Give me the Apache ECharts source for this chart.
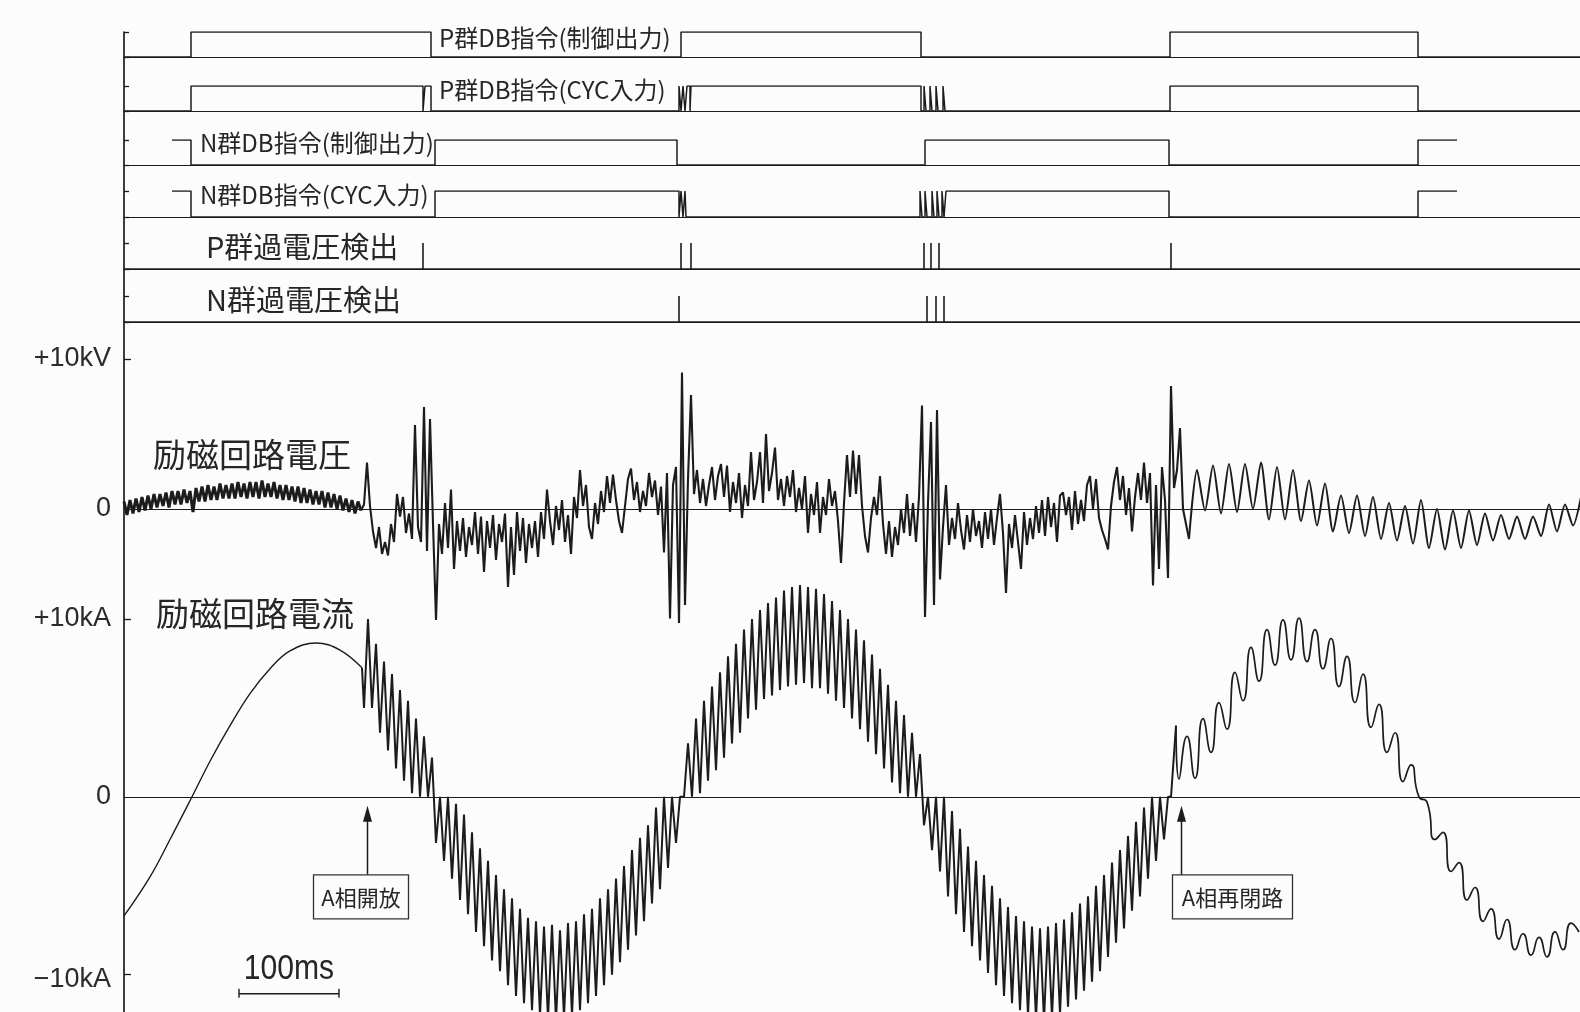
<!DOCTYPE html>
<html>
<head>
<meta charset="utf-8">
<script src="https://cdn.jsdelivr.net/npm/echarts@6/dist/echarts.min.js"></script>
<style>
  html, body { margin: 0; padding: 0; background: #fcfcfc; }
  #chart { width: 1580px; height: 1012px; }
</style>
</head>
<body>
<div id="chart"></div>
<script>
// Oscillogram of an A-phase open / reclose sequence on the excitation circuit.
// Time axis in ms from the start of the record.
const timeSpan = 1456;

// ---- Logic traces: [time ms, level]; the level holds until the next entry
const pDbCmdOut = [[0,0],[67,1],[307,0],[557,1],[797,0],[1046,1],[1294,0],[1456,0]];
const pDbCmdCyc = [[0,0],[67,1],[299,0],[301,1],[307,0],[555,1],[557,0],[559,1],[561,0],[563,1],[566,0],[567,1],
  [797,0],[800,1],[802,0],[806,1],[808,0],[812,1],[814,0],[819,1],[821,0],[1046,1],[1294,0],[1456,0]];
const nDbCmdOut = [[48,1],[67,0],[311,1],[553,0],[801,1],[1045,0],[1294,1],[1333,1]];
const nDbCmdCyc = [[48,1],[67,0],[311,1],[555,0],[557,1],[559,0],[561,1],[562,0],
  [796,1],[798,0],[801,1],[803,0],[808,1],[810,0],[813,1],[815,0],[818,1],[820,0],[822,1],[1045,0],[1294,1],[1333,1]];
// over-voltage detector pulses (ms)
const pOverVoltTimes = [299, 557, 567, 800, 807, 815, 1047];
const nOverVoltTimes = [555, 803, 812, 820];

const rowLabels = ['P群DB指令(制御出力)', 'P群DB指令(CYC入力)', 'N群DB指令(制御出力)',
                   'N群DB指令(CYC入力)', 'P群過電圧検出', 'N群過電圧検出'];

// ---- Excitation circuit voltage (kV), sampled every 3 ms from t = 0
const voltStep = 3;
const voltPre = [
  0.5,-0.4,0.6,-0.3,0.7,-0.2,0.8,-0.1,0.9,0.0, 1.0,0.1,1.0,0.2,1.1,0.1,1.2,0.3,1.2,0.3,
  1.3,0.4,1.2,-0.2,1.4,0.5,1.5,0.5,1.6,0.6, 1.5,0.6,1.7,0.7,1.6,0.7,1.7,0.7,1.8,0.8,
  1.7,0.7,1.8,0.8,1.8,0.7,1.9,0.8,1.7,0.8, 1.8,0.7,1.6,0.6,1.6,0.6,1.5,0.5,1.5,0.4,
  1.4,0.4,1.3,0.3,1.2,0.3,1.2,0.1,1.1,0.1, 1.0,0.0,0.9,-0.1,0.7,-0.2,0.6,-0.3,0.5,-0.1
];
const voltFault = [
  0.3,3.1,0.2,-1.5,-2.6,-1.2,-3.0,-2.2,-3.1,-1.0,
  -2.2,1.0,-0.5,0.8,-1.6,-0.3,-2.0,5.6,-1.2,-2.2,
  6.8,-2.8,6.0,-1.0,-7.4,-1.0,-3.0,0.4,-2.6,1.3,
  -4.0,-0.8,-2.8,-0.6,-3.2,-1.2,-2.4,-0.2,-3.0,-0.5,
  -4.2,-0.8,-2.6,-0.4,-3.4,-1.0,-2.2,-0.3,-5.2,-1.2,
  -4.4,-0.2,-2.8,-0.6,-3.6,-1.0,-2.6,-0.8,-3.2,-0.2,
  -2.0,1.3,-0.8,-2.4,0.2,-1.4,0.6,-2.2,-0.4,-3.0,
  0.8,-0.6,2.6,0.2,1.6,-1.2,-2.0,0.4,-1.0,1.2,
  -0.2,2.2,0.4,2.3,0.6,-0.8,-1.6,0.2,2.0,2.7,
  0.6,1.8,-0.2,1.2,0.2,2.4,0.8,1.9,-0.4,1.5,
  -2.9,2.4,-7.3,1.6,2.8,-7.6,9.1,-6.4,2.0,7.6,
  1.0,2.6,0.4,2.0,0.2,1.6,2.8,0.6,2.2,3.0,
  0.8,2.9,-0.2,1.8,0.4,2.4,-0.6,1.6,0.2,3.8,
  0.6,1.8,3.8,0.4,5.0,1.2,2.4,4.1,0.6,2.0,
  0.2,2.2,0.8,2.6,-0.2,1.4,0.0,2.2,-1.6,1.0,
  -0.4,1.8,-1.6,0.8,-0.4,2.0,0.2,1.2,-0.8,-3.6,
  0.4,3.6,0.8,3.9,1.0,3.6,0.2,-1.8,-2.9,-0.6,
  0.8,-0.4,2.2,-1.0,-3.0,-0.8,-3.2,-1.2,-2.4,0.0,
  -1.6,1.0,-1.8,0.4,-2.2,0.8,6.9,-7.2,0.4,5.8,
  -6.4,6.6,-4.7,-1.2,1.6,-2.4,-0.6,-2.0,0.4,-1.4,
  -2.7,-0.4,-2.2,0.0,-1.8,-0.8,-2.6,-0.2,-2.0,0.0,
  -2.4,-0.6,1.0,-1.6,-5.6,-1.0,-2.6,-0.4,-2.2,-4.0,
  -0.2,-2.4,-0.6,-2.0,0.2,-1.6,0.6,-1.8,0.8,-1.2,
  0.4,-2.2,0.9,1.1,-0.4,0.8,-1.4,1.2,-1.0,0.6,
  -0.8,1.6,2.2,0.0,2.0,-0.6,-1.4,-2.0,-2.7,0.2,
  1.8,2.8,0.6,2.2,-0.4,1.4,-1.5,0.8,2.4,0.6,
  3.1,0.4,2.4,-5.1,1.6,-4.0,2.8,0.6,-4.6,8.2,
  1.4,2.6,5.4,0.0,-1.0,-2.0
];
// after reclosing: ripple turning points every 8 ms from t = 1073
const voltPostStart = 1073;
const voltPostStep = 8;
const voltPost = [
  2.6,-0.1,2.9,-0.3,3.0,-0.2,3.0,0.0,3.1,-0.7, 2.8,-0.7,2.6,-0.8,1.9,-1.1,1.7,-1.5,0.9,-1.6,
  0.9,-1.8,0.8,-2.0,0.4,-2.1,0.2,-2.3,0.6,-2.6, 0.0,-2.7,-0.1,-2.6,-0.1,-2.4,-0.3,-2.1,-0.4,-2.0,
  -0.5,-2.0,-0.5,-1.8,0.3,-1.5,0.3,-1.1,0.8
];

// ---- Excitation circuit current (kA)
const currentPre = [[0,-6.7],[26,-4.5],[46,-2.4],[68,0],[86,2.0],[106,4.0],[126,5.8],[146,7.2],
  [166,8.2],[192,8.65],[216,8.25],[238,7.25]];
// after A-phase opening: ripple turning points every 4 ms from t = 240
const currentFaultStart = 240;
const currentFaultStep = 4;
const currentFault = [
  5.0,10.0,5.0,8.6,3.6,7.6,2.6,6.9,1.6,6.0,0.9,5.4,0.2,4.4,0,3.4,0,2.2,
  -2.6,0,-3.6,0,-4.6,-0.4,-5.8,-1.0,-6.6,-2.0,-7.6,-2.9,-8.4,-3.6,-9.2,-4.4,-9.8,-5.2,
  -10.6,-5.7,-11.2,-6.3,-11.6,-6.8,-12.0,-7.0,-12.3,-7.3,-12.5,-7.2,-12.6,-7.5,-12.4,-7.1,
  -12.3,-7.0,-12.0,-6.6,-11.6,-6.3,-11.2,-5.7,-10.6,-5.2,-10.0,-4.6,-9.3,-3.9,-8.6,-3.0,
  -7.8,-2.3,-7.0,-1.6,-6.0,-0.6,-5.2,0,-4.0,0,-2.6,0,
  0,3.0,0,4.4,0.2,5.4,0.9,6.2,1.5,7.0,2.2,7.9,3.0,8.6,3.6,9.4,4.4,10.0,4.9,10.5,
  5.5,10.9,5.7,11.2,6.0,11.6,6.2,11.8,6.3,11.9,6.4,11.8,6.1,11.7,6.1,11.4,5.8,11.0,5.4,10.5,
  5.0,10.0,4.4,9.4,3.8,8.8,3.1,8.0,2.4,7.2,1.6,6.3,0.8,5.4,0.2,4.6,0,3.6,0,2.4,
  -1.6,0,-3.0,0,-4.2,0,-5.6,-0.8,-6.6,-1.8,-7.6,-2.8,-8.4,-3.6,-9.2,-4.4,-9.9,-5.0,
  -10.6,-5.7,-11.2,-6.2,-11.6,-6.7,-12.0,-7.0,-12.3,-7.3,-12.5,-7.4,-12.6,-7.3,-12.4,-7.1,
  -12.2,-6.9,-11.8,-6.5,-11.4,-6.0,-10.9,-5.6,-10.4,-5.0,-9.8,-4.4,-9.0,-3.7,-8.2,-3.0,
  -7.4,-2.2,-6.4,-1.4,-5.6,-0.6,-4.6,0,-3.6,0,-2.4
];
const currentReclose = [[1044,0],[1047,0],[1052,4.0]];
// after reclosing: ripple turning points every 8 ms from t = 1055
const currentPostStart = 1055;
const currentPostStep = 8;
const currentPost = [
  1.0,3.4,1.05,4.4,2.5,5.3,3.8,7.0,5.4,8.4, 6.5,9.4,7.4,9.95,7.7,10.05,7.6,9.4,7.2,8.9,
  6.2,7.9,5.3,6.9,3.9,5.2,2.5,3.6,0.85,1.8, 0.0,-0.3,-2.4,-2.0,-4.2,-3.7,-5.8,-5.1,-7.0,-6.3,
  -8.0,-6.9,-8.6,-7.7,-8.9,-7.9,-9.0,-7.6,-8.6,-7.1,-7.6
];

// ---- Events and scale
const eventTimes = [243, 1057];
const eventLabels = ['A相開放', 'A相再閉路'];
const scaleBar = [115, 100];   // start ms, length ms
const scaleBarLabel = '100ms';

// ---------------------------------------------------------------------------
const INK = '#1c1c1c';
const JP = '"Noto Sans CJK JP", "Noto Sans CJK SC", sans-serif';
const LAT = '"Liberation Sans", "DejaVu Sans", sans-serif';

function sampled(start, step, values) {
  return values.map((v, i) => [start + i * step, v]);
}
function pulses(times, end) {
  const out = [[0, 0]];
  times.forEach(t => { out.push([t, 0], [t, 1], [t, 0]); });
  out.push([end, 0]);
  return out;
}

const rowLayout = [[32, 57], [86, 111], [140, 165], [191, 217], [243, 269], [296, 322]];
const grids = rowLayout.map(([t, b]) => ({ left: 124, right: 0, top: t, height: b - t }));
grids.push({ left: 124, right: 0, top: 329, height: 300 });        // voltage
grids.push({ left: 124, right: 0, top: 547.8, height: 464.6 });    // current
grids.push({ left: 124, right: 0, top: 32, height: 980 });         // left frame
const G_V = 6, G_I = 7, G_F = 8;

const xAxes = grids.map((g, i) => ({
  type: 'value', gridIndex: i, min: 0, max: timeSpan, position: 'bottom',
  show: i !== G_F,
  axisLine: { show: true, onZero: i === G_V || i === G_I, lineStyle: { color: INK, width: 1.2 } },
  axisTick: { show: false }, axisLabel: { show: false }, splitLine: { show: false }
}));

const yAxes = [];
rowLayout.forEach((r, i) => yAxes.push({
  type: 'value', gridIndex: i, min: 0, max: 1, interval: 1,
  axisLine: { show: false },
  axisTick: { show: true, inside: true, length: 5, lineStyle: { color: INK, width: 1.3 } },
  axisLabel: { show: false }, splitLine: { show: false }
}));
yAxes.push({
  type: 'value', gridIndex: G_V, min: -8, max: 12,
  axisLine: { show: false },
  axisTick: { show: true, inside: true, length: 7, customValues: [10], lineStyle: { color: INK, width: 1.3 } },
  axisLabel: {
    customValues: [0, 10], margin: 13, color: '#2a2a2a', fontSize: 27, fontFamily: LAT,
    padding: [9, 0, 0, 0],
    formatter: v => (v === 10 ? '+10kV' : '0')
  },
  splitLine: { show: false }
});
yAxes.push({
  type: 'value', gridIndex: G_I, min: -12.1, max: 14,
  axisLine: { show: false },
  axisTick: { show: true, inside: true, length: 7, customValues: [-10, 10], lineStyle: { color: INK, width: 1.3 } },
  axisLabel: {
    customValues: [-10, 0, 10], margin: 13, color: '#2a2a2a', fontSize: 27, fontFamily: LAT,
    formatter: v => (v === 10 ? '+10kA' : v === -10 ? '{lo|−10kA}' : '0'),
    rich: { lo: { fontSize: 27, fontFamily: LAT, color: '#2a2a2a', padding: [10, 0, 0, 0] } }
  },
  splitLine: { show: false }
});
yAxes.push({
  type: 'value', gridIndex: G_F, min: 0, max: 1,
  axisLine: { show: true, lineStyle: { color: INK, width: 1.7 } },
  axisTick: { show: false }, axisLabel: { show: false }, splitLine: { show: false }
});

const lineBase = { type: 'line', symbol: 'none', animation: false, silent: true };
const series = [];
[pDbCmdOut, pDbCmdCyc, nDbCmdOut, nDbCmdCyc].forEach((d, i) => series.push(Object.assign({}, lineBase, {
  xAxisIndex: i, yAxisIndex: i, step: 'end', data: d,
  lineStyle: { color: INK, width: 1.5 }
})));
[pOverVoltTimes, nOverVoltTimes].forEach((d, k) => series.push(Object.assign({}, lineBase, {
  xAxisIndex: 4 + k, yAxisIndex: 4 + k, data: pulses(d, timeSpan),
  lineStyle: { color: INK, width: 1.6 }
})));

// voltage: noisy hump before the opening, disturbed section, ripple after reclosing
const voltPreData = sampled(0, voltStep, voltPre);
const voltFaultData = sampled(voltPre.length * voltStep, voltStep, voltFault);
series.push(Object.assign({}, lineBase, {
  xAxisIndex: G_V, yAxisIndex: G_V, data: voltPreData,
  lineStyle: { color: INK, width: 3 }
}));
series.push(Object.assign({}, lineBase, {
  xAxisIndex: G_V, yAxisIndex: G_V,
  data: [voltPreData[voltPreData.length - 1]].concat(voltFaultData),
  lineStyle: { color: INK, width: 2.1 }
}));
series.push(Object.assign({}, lineBase, {
  xAxisIndex: G_V, yAxisIndex: G_V, smooth: 0.25,
  data: [voltFaultData[voltFaultData.length - 1]].concat(sampled(voltPostStart, voltPostStep, voltPost)),
  lineStyle: { color: INK, width: 2 }
}));

// current
series.push(Object.assign({}, lineBase, {
  xAxisIndex: G_I, yAxisIndex: G_I, smooth: 0.4, data: currentPre,
  lineStyle: { color: INK, width: 1.4 }
}));
series.push(Object.assign({}, lineBase, {
  xAxisIndex: G_I, yAxisIndex: G_I,
  data: [currentPre[currentPre.length - 1]]
    .concat(sampled(currentFaultStart, currentFaultStep, currentFault), currentReclose),
  lineStyle: { color: INK, width: 2 }
}));
series.push(Object.assign({}, lineBase, {
  xAxisIndex: G_I, yAxisIndex: G_I, smooth: 0.6,
  data: [currentReclose[currentReclose.length - 1]]
    .concat(sampled(currentPostStart, currentPostStep, currentPost)),
  lineStyle: { color: INK, width: 1.7 }
}));

// event call-outs: arrow up to the zero line, boxed caption below
const calloutShift = [-54, -9];
const calloutWidth = [95, 120];
series.push({
  type: 'custom', xAxisIndex: G_I, yAxisIndex: G_I, silent: true, animation: false, clip: false,
  data: eventTimes.map((t, i) => [t, 0, i]),
  renderItem(params, api) {
    const i = api.value(2);
    const p = api.coord([api.value(0), api.value(1)]);
    const x = Math.round(p[0]) + 0.5, y0 = p[1];
    const tip = y0 + 9, boxTop = y0 + 78, boxH = 44;
    const bx = x + calloutShift[i], bw = calloutWidth[i];
    return {
      type: 'group', children: [
        { type: 'line', shape: { x1: x, y1: tip + 12, x2: x, y2: boxTop }, style: { stroke: INK, lineWidth: 1.5 } },
        { type: 'polygon', shape: { points: [[x, tip], [x - 4.5, tip + 16], [x + 4.5, tip + 16]] }, style: { fill: INK } },
        { type: 'rect', shape: { x: bx, y: boxTop, width: bw, height: boxH }, style: { fill: '#fcfcfc', stroke: '#333', lineWidth: 1.3 } },
        { type: 'text', x: bx + bw / 2, y: boxTop + boxH / 2 + 1,
          style: { text: eventLabels[i], font: '22px ' + JP, fill: '#262626', align: 'center', verticalAlign: 'middle' } }
      ]
    };
  }
});
// time scale bar
series.push({
  type: 'custom', xAxisIndex: G_I, yAxisIndex: G_I, silent: true, animation: false, clip: false,
  data: [[scaleBar[0], scaleBar[1]]],
  renderItem(params, api) {
    const a = api.coord([api.value(0), 0]);
    const b = api.coord([api.value(0) + api.value(1), 0]);
    const y = a[1] + 197;
    const cx = (a[0] + b[0]) / 2;
    return {
      type: 'group', children: [
        { type: 'line', shape: { x1: a[0], y1: y, x2: b[0], y2: y }, style: { stroke: INK, lineWidth: 1.6 } },
        { type: 'line', shape: { x1: a[0], y1: y - 5, x2: a[0], y2: y + 4 }, style: { stroke: INK, lineWidth: 1.4 } },
        { type: 'line', shape: { x1: b[0], y1: y - 5, x2: b[0], y2: y + 4 }, style: { stroke: INK, lineWidth: 1.4 } },
        { type: 'text', x: cx, y: y - 24, scaleX: 0.86, originX: 0, originY: 0,
          style: { text: scaleBarLabel, font: '35px ' + LAT, fill: '#262626', align: 'center', verticalAlign: 'middle' } }
      ]
    };
  }
});

// trace names
const rowLabelPos = [[439, 38], [439, 90], [200, 143], [200, 195], [206, 247], [206, 300]];
const graphic = rowLabels.map((txt, i) => ({
  type: 'text', x: rowLabelPos[i][0], y: rowLabelPos[i][1], silent: true,
  style: { text: txt, font: (i < 4 ? '24px ' : '29px ') + JP, fill: '#262626', verticalAlign: 'middle' }
}));
graphic.push({ type: 'text', x: 153, y: 454, silent: true,
  style: { text: '励磁回路電圧', font: '33px ' + JP, fill: '#262626', verticalAlign: 'middle' } });
graphic.push({ type: 'text', x: 156, y: 613, silent: true,
  style: { text: '励磁回路電流', font: '33px ' + JP, fill: '#262626', verticalAlign: 'middle' } });

const chart = echarts.init(document.getElementById('chart'));
chart.setOption({
  backgroundColor: '#fcfcfc',
  animation: false,
  grid: grids,
  xAxis: xAxes,
  yAxis: yAxes,
  series: series,
  graphic: graphic
});
</script>
</body>
</html>
